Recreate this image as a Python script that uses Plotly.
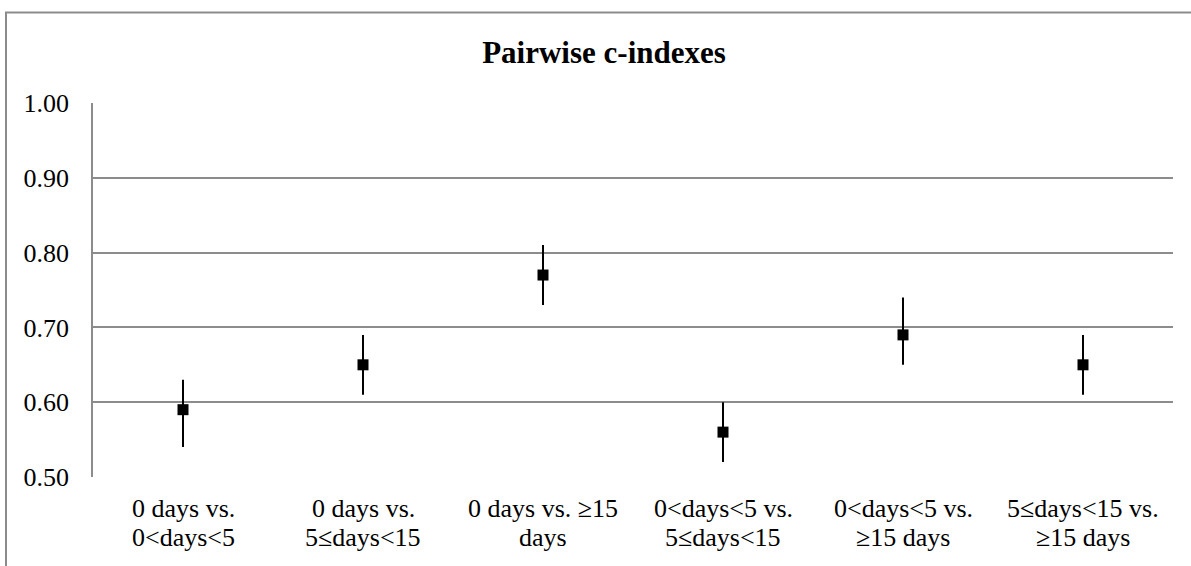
import plotly.graph_objects as go

categories = [
    "0 days vs.<br>0&lt;days&lt;5",
    "0 days vs.<br>5≤days&lt;15",
    "0 days vs. ≥15<br>days",
    "0&lt;days&lt;5 vs.<br>5≤days&lt;15",
    "0&lt;days&lt;5 vs.<br>≥15 days",
    "5≤days&lt;15 vs.<br>≥15 days",
]
c_index = [0.59, 0.65, 0.77, 0.56, 0.69, 0.65]
ci_lower = [0.54, 0.61, 0.73, 0.52, 0.65, 0.61]
ci_upper = [0.63, 0.69, 0.81, 0.60, 0.74, 0.69]
y_ticks = [0.5, 0.6, 0.7, 0.8, 0.9, 1.0]

err_plus = [u - v for u, v in zip(ci_upper, c_index)]
err_minus = [v - l for v, l in zip(c_index, ci_lower)]

FONT = "Liberation Serif"
GRID = "#8c8c8c"

fig = go.Figure()
fig.add_trace(go.Scatter(
    x=categories, y=c_index, mode="markers",
    marker=dict(symbol="square", size=11, color="black"),
    error_y=dict(type="data", symmetric=False, array=err_plus, arrayminus=err_minus,
                 color="black", thickness=2, width=0),
    showlegend=False,
))

W, H = 1191, 566
L, R, T, B = 93, 18, 102.5, 89.3
pw, ph = W - L - R, H - T - B

def px_x(p):
    return (p - L) / pw

def px_y(p):
    return (H - B - p) / ph

fig.add_shape(type="rect", xref="paper", yref="paper",
              x0=px_x(6), x1=px_x(1200), y0=px_y(575), y1=px_y(12),
              line=dict(color=GRID, width=2), fillcolor="rgba(0,0,0,0)", layer="below")

# category labels: one annotation per text line for tighter line spacing
line_centers = [508, 537]
for cat in categories:
    for j, part in enumerate(cat.split("<br>")):
        fig.add_annotation(x=cat, xref="x", y=px_y(line_centers[j]), yref="paper",
                           text=part, showarrow=False, xanchor="center", yanchor="middle",
                           font=dict(family=FONT, size=26, color="black"))

fig.update_layout(
    width=W, height=H,
    margin=dict(l=L, r=R, t=T, b=B),
    paper_bgcolor="white", plot_bgcolor="white",
    font=dict(family=FONT, color="black", size=26),
    title=dict(text="<b>Pairwise c-indexes</b>", x=604 / W, xref="container", xanchor="center",
               y=1 - 52 / H, yref="container", yanchor="middle",
               font=dict(family=FONT, size=31, color="black")),
    xaxis=dict(range=[-0.5, len(categories) - 0.5], showgrid=False, showline=False,
               zeroline=False, ticks="", showticklabels=False, automargin=False),
    yaxis=dict(range=[0.5, 1.0], tickvals=y_ticks, tickformat=".2f",
               showgrid=True, gridcolor=GRID, gridwidth=1.5, automargin=False,
               showline=True, linecolor=GRID, linewidth=1.5, zeroline=False, ticks="",
               ticklabelstandoff=17,
               tickfont=dict(family=FONT, size=26, color="black")),
)

fig.write_html("out.html", config={"displayModeBar": False},
               post_script="document.body.style.margin='0';")
